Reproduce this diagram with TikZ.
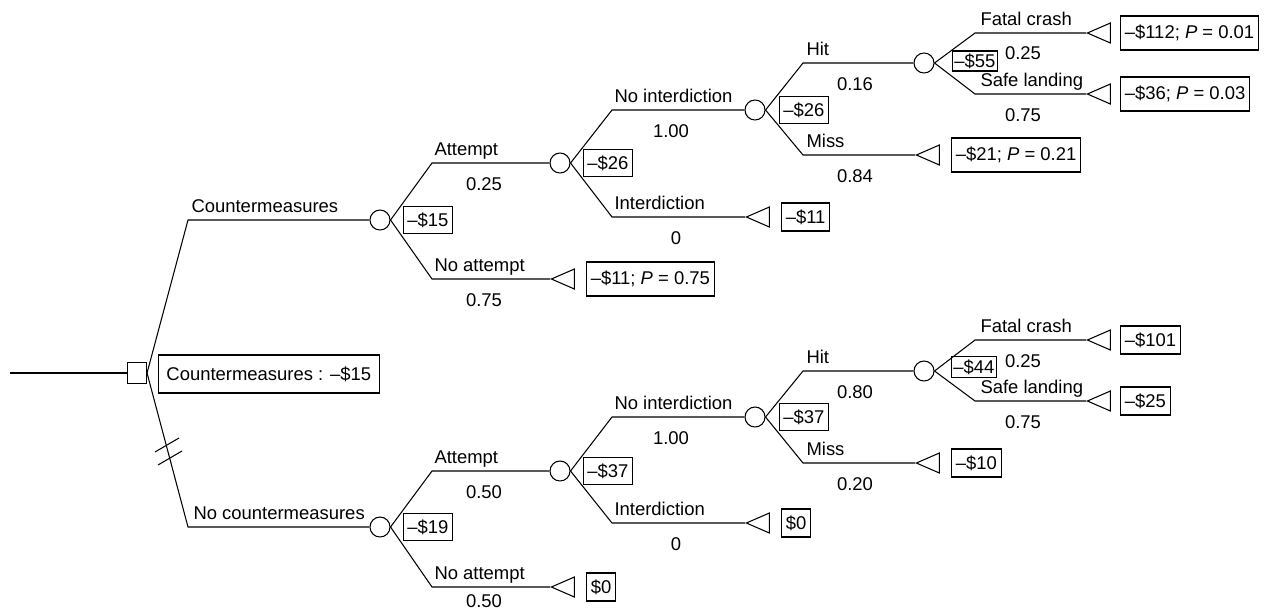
\documentclass[tikz,border=0pt]{standalone}
\usepackage{fontspec}
\setmainfont{Liberation Sans}
\usepackage{tikz}
\usetikzlibrary{shapes.geometric, positioning}
\tikzstyle{chance} = [circle, draw, minimum size = 0.4cm, inner sep = 0pt]
\tikzstyle{decision} = [rectangle, draw, minimum width = 0.38cm, minimum height = 0.42cm, inner sep = 0pt]
\tikzstyle{terminal} = [isosceles triangle, isosceles triangle stretches, shape border rotate = 180, draw, minimum width = 0.4cm, minimum height = 0.46cm, inner sep = 0pt]
\tikzstyle{valbox} = [rectangle, draw, inner xsep = 2.5pt, inner ysep = 0pt, minimum height = 0.54cm]
\tikzstyle{endbox} = [rectangle, draw, inner xsep = 2.5pt, inner ysep = 0pt, minimum height = 0.56cm]
\tikzstyle{pbox} = [endbox, minimum height = 0.68cm]
\tikzstyle{branch} = [anchor = base west, inner sep = 0pt]
\tikzstyle{prob} = [anchor = north, inner sep = 0pt]

\begin{document}
\begin{tikzpicture}[x = 0.02cm, y = -0.02cm, line width = 0.6pt, font = \fontsize{10.5}{12}\selectfont]
\useasboundingbox (0,0) rectangle (1280,609);
\node (d) [decision] at (137,373) {};
\coordinate (root) at (10,373);
\draw (root) -- (d);
\node (sum) [endbox, anchor = west, minimum height = 0.76cm, inner xsep = 4.5pt] at (158,374) {Countermeasures : \textendash\$15};

% countermeasures
\node (c1) [chance] at (380,220) {};
\node (v1) [valbox, right = 0.24cm of c1] {\textendash\$15};
\coordinate (k1) at (188,220);
\draw (d.east) -- (k1) -- (c1);
\node (l1) [branch] at (191,212) {Countermeasures};

\node (c2) [chance] at (560,163) {};
\node (v2) [valbox, right = 0.24cm of c2] {\textendash\$26};
\coordinate (k2) at (432,163);
\draw (c1.east) -- (k2) -- (c2);
\node (l2) [branch] at (434,155) {Attempt};
\node (p2) [prob] at (484,177) {0.25};

\node (t1) [terminal, anchor = apex] at (550,279) {};
\node (e1) [pbox, right = 0.22cm of t1] {\textendash\$11; \textit{P} = 0.75};
\coordinate (k3) at (432,279);
\draw (c1.east) -- (k3) -- (t1.apex);
\node (l3) [branch] at (434,271) {No attempt};
\node (p3) [prob] at (484,293) {0.75};

\node (c3) [chance] at (755,110) {};
\node (v3) [valbox, right = 0.26cm of c3] {\textendash\$26};
\coordinate (k4) at (612,110);
\draw (c2.east) -- (k4) -- (c3);
\node (l4) [branch] at (614,102) {No interdiction};
\node (p4) [prob] at (671,124) {1.00};

\node (t2) [terminal, anchor = apex] at (745,217) {};
\node (e2) [endbox, right = 0.22cm of t2] {\textendash\$11};
\coordinate (k5) at (612,217);
\draw (c2.east) -- (k5) -- (t2.apex);
\node (l5) [branch] at (614,209) {Interdiction};
\node (p5) [prob] at (676,231) {0};

\node (c4) [chance] at (924,63) {};
\node (v4) [valbox, anchor = west, minimum height = 0.4cm, inner xsep = 1pt] at (952,61) {\textendash\$55};
\coordinate (k6) at (803,63);
\draw (c3.east) -- (k6) -- (c4);
\node (l6) [branch] at (806,55) {Hit};
\node (p6) [prob] at (855,77) {0.16};

\node (t3) [terminal, anchor = apex] at (915,155) {};
\node (e3) [pbox, right = 0.22cm of t3] {\textendash\$21; \textit{P} = 0.21};
\coordinate (k7) at (803,155);
\draw (c3.east) -- (k7) -- (t3.apex);
\node (l7) [branch] at (806,147) {Miss};
\node (p7) [prob] at (855,169) {0.84};

\node (t4) [terminal, anchor = apex] at (1086,33) {};
\node (e4) [pbox, right = 0.18cm of t4] {\textendash\$112; \textit{P} = 0.01};
\coordinate (k8) at (975,33);
\draw (c4.east) -- (k8) -- (t4.apex);
\node (l8) [branch] at (980,25) {Fatal crash};
\node (p8) [prob] at (1023,46) {0.25};

\node (t5) [terminal, anchor = apex] at (1086,94) {};
\node (e5) [pbox, right = 0.18cm of t5] {\textendash\$36; \textit{P} = 0.03};
\coordinate (k9) at (975,94);
\draw (c4.east) -- (k9) -- (t5.apex);
\node (l9) [branch] at (980,86) {Safe landing};
\node (p9) [prob] at (1023,108) {0.75};

% no countermeasures
\node (c5) [chance] at (380,527) {};
\node (v5) [valbox, right = 0.24cm of c5] {\textendash\$19};
\coordinate (m1) at (188,527);
\draw (d.east) -- (m1) -- (c5);
\node (n1) [branch] at (193,519) {No countermeasures};
\draw (155,452) -- (179,438);
\draw (158,465) -- (182,451);

\node (c6) [chance] at (560,471) {};
\node (v6) [valbox, right = 0.24cm of c6] {\textendash\$37};
\coordinate (m2) at (432,471);
\draw (c5.east) -- (m2) -- (c6);
\node (n2) [branch] at (434,463) {Attempt};
\node (q2) [prob] at (484,485) {0.50};

\node (t6) [terminal, anchor = apex] at (550,587) {};
\node (f1) [endbox, right = 0.22cm of t6] {\$0};
\coordinate (m3) at (432,587);
\draw (c5.east) -- (m3) -- (t6.apex);
\node (n3) [branch] at (434,579) {No attempt};
\node (q3) [prob] at (484,594) {0.50};

\node (c7) [chance] at (755,417) {};
\node (v7) [valbox, right = 0.26cm of c7] {\textendash\$37};
\coordinate (m4) at (612,417);
\draw (c6.east) -- (m4) -- (c7);
\node (n4) [branch] at (614,409) {No interdiction};
\node (q4) [prob] at (671,431) {1.00};

\node (t7) [terminal, anchor = apex] at (745,523) {};
\node (f2) [endbox, right = 0.22cm of t7] {\$0};
\coordinate (m5) at (612,523);
\draw (c6.east) -- (m5) -- (t7.apex);
\node (n5) [branch] at (614,515) {Interdiction};
\node (q5) [prob] at (676,537) {0};

\node (c8) [chance] at (924,371) {};
\node (v8) [valbox, anchor = west, minimum height = 0.42cm, inner xsep = 1pt] at (951,367) {\textendash\$44};
\coordinate (m6) at (803,371);
\draw (c7.east) -- (m6) -- (c8);
\node (n6) [branch] at (806,363) {Hit};
\node (q6) [prob] at (855,385) {0.80};

\node (t8) [terminal, anchor = apex] at (915,463) {};
\node (f3) [endbox, right = 0.22cm of t8] {\textendash\$10};
\coordinate (m7) at (803,463);
\draw (c7.east) -- (m7) -- (t8.apex);
\node (n7) [branch] at (806,455) {Miss};
\node (q7) [prob] at (855,477) {0.20};

\node (t9) [terminal, anchor = apex] at (1086,340) {};
\node (f4) [endbox, right = 0.18cm of t9] {\textendash\$101};
\coordinate (m8) at (975,340);
\draw (c8.east) -- (m8) -- (t9.apex);
\node (n8) [branch] at (980,332) {Fatal crash};
\node (q8) [prob] at (1023,354) {0.25};

\node (t10) [terminal, anchor = apex] at (1086,401) {};
\node (f5) [endbox, right = 0.18cm of t10] {\textendash\$25};
\coordinate (m9) at (975,401);
\draw (c8.east) -- (m9) -- (t10.apex);
\node (n9) [branch] at (980,393) {Safe landing};
\node (q9) [prob] at (1023,415) {0.75};
\end{tikzpicture}
\end{document}
